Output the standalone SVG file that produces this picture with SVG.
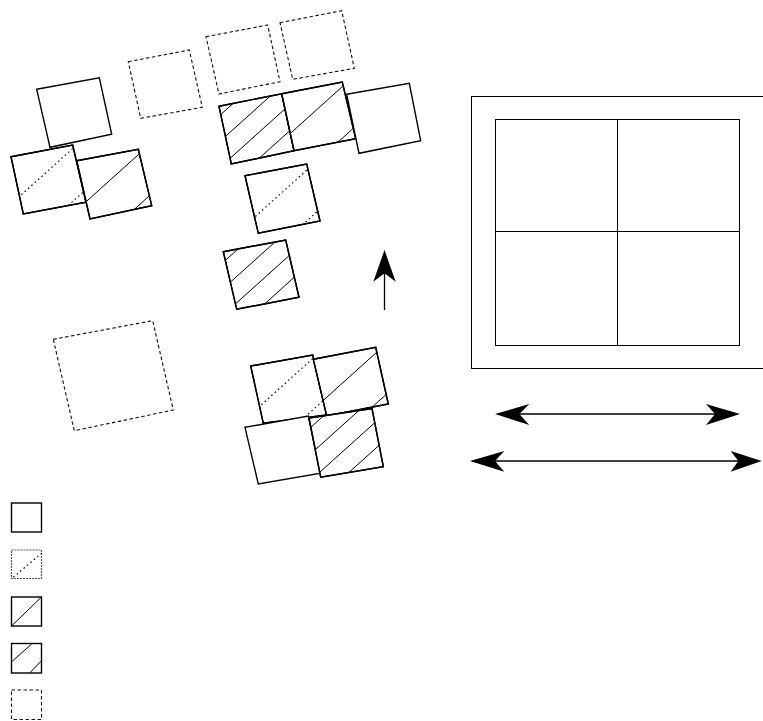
<svg xmlns="http://www.w3.org/2000/svg" width="763" height="721" viewBox="0 0 763 721">
<style>
.sq{fill:#fff;stroke:#000;stroke-width:1.4;stroke-linejoin:miter}
.dsq{fill:none;stroke:#111;stroke-width:1.1;stroke-dasharray:3.5 2.5}
.h{stroke:#000;stroke-width:1;fill:none}
.hd{stroke:#000;stroke-width:1.2;fill:none;stroke-dasharray:1.5 3}
.fr{fill:none;stroke:#000;stroke-width:1}
.ar{stroke:#000;stroke-width:1.3;fill:none}
.ah{fill:#000;stroke:none}
</style>
<defs>
<clipPath id="cB"><polygon points="11,156.7 72.7,145 86,202.3 23.3,214"/></clipPath>
<clipPath id="cC"><polygon points="76.7,160.7 138.3,149.3 151.7,205.7 90,219"/></clipPath>
<clipPath id="cE"><polygon points="219,106.3 281.7,93.7 294,150.7 231.3,164"/></clipPath>
<clipPath id="cF"><polygon points="281.7,93.7 342.3,82 355.7,138.7 294,150.7"/></clipPath>
<clipPath id="cH"><polygon points="245,175.7 306.7,164 320,221 258.3,233.3"/></clipPath>
<clipPath id="cI"><polygon points="223.3,251.7 285.7,240 299,297.3 236.7,309.3"/></clipPath>
<clipPath id="cK"><polygon points="250.7,366 312.7,355 326.7,415 263.3,423.3"/></clipPath>
<clipPath id="cM"><polygon points="313.3,359.3 375.7,347.3 388.3,404 326.7,416"/></clipPath>
<clipPath id="cN"><polygon points="309,418 372,408.5 383.3,466.7 320.7,477.3"/></clipPath>
</defs>

<g id="sqD1"><polygon class="dsq" points="128.3,61.7 189.3,50 202.3,107.3 140.7,118.3"/></g>
<g id="sqD2"><polygon class="dsq" points="206,36.7 267.7,25 280,81.7 219,94"/></g>
<g id="sqD3"><polygon class="dsq" points="280,22.7 341.7,10.7 354.3,68.3 292.7,79.3"/></g>
<g id="sqJ"><polygon class="dsq" points="53.3,339.3 152.7,320.7 173.3,410 74.3,430.7"/></g>

<g id="sqA"><polygon class="sq" points="36.7,89.3 99.3,77.7 111.7,134.3 50,147.3"/></g>
<g id="sqB">
<polygon class="sq" points="11,156.7 72.7,145 86,202.3 23.3,214"/>
<g clip-path="url(#cB)"><line class="hd" x1="8" y1="206.8" x2="90" y2="133"/><line class="hd" x1="8" y1="259.8" x2="90" y2="186"/></g>
<polygon class="sq" style="fill:none" points="11,156.7 72.7,145 86,202.3 23.3,214"/>
</g>
<g id="sqC">
<polygon class="sq" points="76.7,160.7 138.3,149.3 151.7,205.7 90,219"/>
<g clip-path="url(#cC)"><line class="h" x1="74" y1="212.6" x2="155" y2="139.7"/><line class="h" x1="74" y1="263.6" x2="155" y2="190.7"/></g>
<polygon class="sq" style="fill:none" points="76.7,160.7 138.3,149.3 151.7,205.7 90,219"/>
</g>

<g id="sqE">
<polygon class="sq" points="219,106.3 281.7,93.7 294,150.7 231.3,164"/>
<g clip-path="url(#cE)"><line class="h" x1="216" y1="118.8" x2="297" y2="45.9"/><line class="h" x1="216" y1="144.9" x2="297" y2="72"/><line class="h" x1="216" y1="171" x2="297" y2="98.1"/><line class="h" x1="216" y1="197.1" x2="297" y2="124.2"/></g>
<polygon class="sq" style="fill:none" points="219,106.3 281.7,93.7 294,150.7 231.3,164"/>
</g>
<g id="sqF">
<polygon class="sq" points="281.7,93.7 342.3,82 355.7,138.7 294,150.7"/>
<g clip-path="url(#cF)"><line class="h" x1="279" y1="143.6" x2="358" y2="72.5"/><line class="h" x1="279" y1="195.2" x2="358" y2="124.1"/></g>
<polygon class="sq" style="fill:none" points="281.7,93.7 342.3,82 355.7,138.7 294,150.7"/>
</g>
<g id="sqG"><polygon class="sq" points="346.7,94.3 409.3,83.3 420.7,140.7 359,153.3"/></g>

<g id="sqH">
<polygon class="sq" points="245,175.7 306.7,164 320,221 258.3,233.3"/>
<g clip-path="url(#cH)"><line class="hd" x1="242" y1="228.5" x2="323" y2="155.6"/><line class="hd" x1="242" y1="279.3" x2="323" y2="206.4"/></g>
<polygon class="sq" style="fill:none" points="245,175.7 306.7,164 320,221 258.3,233.3"/>
</g>
<g id="sqI">
<polygon class="sq" points="223.3,251.7 285.7,240 299,297.3 236.7,309.3"/>
<g clip-path="url(#cI)"><line class="h" x1="220" y1="265.2" x2="302" y2="191.4"/><line class="h" x1="220" y1="291.5" x2="302" y2="217.7"/><line class="h" x1="220" y1="317.8" x2="302" y2="244"/><line class="h" x1="220" y1="344.1" x2="302" y2="270.3"/></g>
<polygon class="sq" style="fill:none" points="223.3,251.7 285.7,240 299,297.3 236.7,309.3"/>
</g>

<g id="sqK">
<polygon class="sq" points="250.7,366 312.7,355 326.7,415 263.3,423.3"/>
<g clip-path="url(#cK)"><line class="hd" x1="248" y1="416.8" x2="330" y2="343"/><line class="hd" x1="248" y1="468.3" x2="330" y2="394.5"/></g>
<polygon class="sq" style="fill:none" points="250.7,366 312.7,355 326.7,415 263.3,423.3"/>
</g>
<g id="sqM">
<polygon class="sq" points="313.3,359.3 375.7,347.3 388.3,404 326.7,416"/>
<g clip-path="url(#cM)"><line class="h" x1="310" y1="412.3" x2="391" y2="339.4"/><line class="h" x1="310" y1="463" x2="391" y2="390.1"/></g>
<polygon class="sq" style="fill:none" points="313.3,359.3 375.7,347.3 388.3,404 326.7,416"/>
</g>
<g id="sqL"><polygon class="sq" points="245,427.3 308.3,416 320.7,473.3 258.3,484"/></g>
<g id="sqN">
<polygon class="sq" points="309,418 372,408.5 383.3,466.7 320.7,477.3"/>
<g clip-path="url(#cN)"><line class="h" x1="306" y1="431.6" x2="386" y2="359.6"/><line class="h" x1="306" y1="458.1" x2="386" y2="386.1"/><line class="h" x1="306" y1="484.6" x2="386" y2="412.6"/><line class="h" x1="306" y1="511.1" x2="386" y2="439.1"/></g>
<polygon class="sq" style="fill:none" points="309,418 372,408.5 383.3,466.7 320.7,477.3"/>
</g>

<g id="frame">
<rect class="fr" x="471.5" y="96.5" width="295" height="272"/>
<rect class="fr" x="495.5" y="119.5" width="244" height="226"/>
<line class="fr" x1="617.5" y1="119.5" x2="617.5" y2="345.5"/>
<line class="fr" x1="495.5" y1="231.5" x2="739.5" y2="231.5"/>
</g>

<g id="connectors">
<line class="ar" x1="384.5" y1="310" x2="384.5" y2="268"/>
<polygon class="ah" points="384.5,250 395.7,281.7 384.5,273.3 373.3,281.7"/>
<line class="ar" x1="515" y1="414" x2="720" y2="414"/>
<polygon class="ah" points="495,414 529.3,404 519.3,414 529.3,425"/>
<polygon class="ah" points="740,414 706,404 715,414 706,425"/>
<line class="ar" x1="490" y1="461" x2="742" y2="461"/>
<polygon class="ah" points="470,461 504.3,451 495,461 504.3,471.7"/>
<polygon class="ah" points="761.7,461 730.7,451 738.3,461 730.7,471.7"/>
</g>

<g id="legend">
<g id="leg1"><rect class="sq" x="11.5" y="503" width="30" height="29"/></g>
<g id="leg2"><rect x="11.5" y="550" width="30" height="28.5" fill="#fff" stroke="#555" stroke-width="1.2" stroke-dasharray="2 1"/><line class="hd" x1="13.3" y1="577.3" x2="41.5" y2="553.3"/></g>
<g id="leg3"><rect class="sq" x="11.5" y="597" width="30" height="29"/><line class="h" x1="11.5" y1="626" x2="41.5" y2="597"/></g>
<g id="leg4"><rect class="sq" x="11.5" y="643.5" width="30" height="29.5"/><line class="h" x1="11.7" y1="661.7" x2="31.7" y2="644"/><line class="h" x1="30" y1="672.7" x2="41.5" y2="660.7"/></g>
<g id="leg5"><rect class="dsq" x="11.5" y="690" width="30" height="29.5"/></g>
</g>
</svg>
